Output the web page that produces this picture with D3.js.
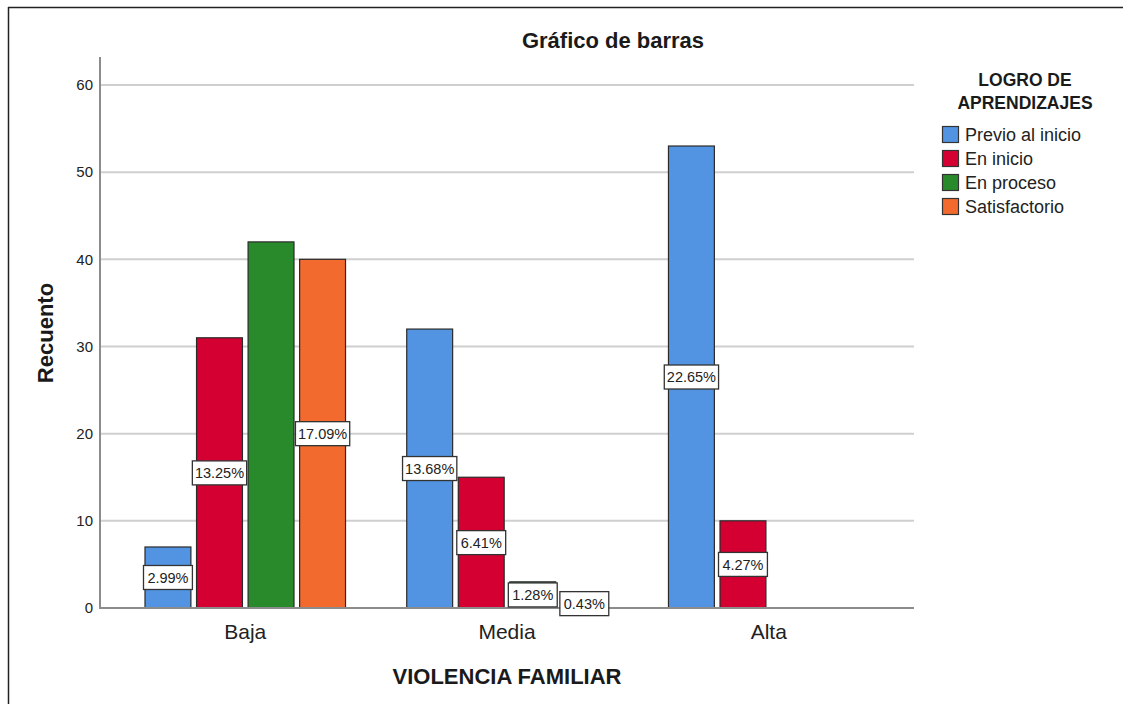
<!DOCTYPE html>
<html><head><meta charset="utf-8">
<script src="https://cdn.jsdelivr.net/npm/d3@7"></script>
<style>body{margin:0;background:#fff;} svg{display:block;font-family:"Liberation Sans",Arial,sans-serif;}</style>
</head><body><svg id="c" width="1128" height="704"></svg>
<script>
const categories = ["Baja", "Media", "Alta"];
const seriesNames = ["Previo al inicio", "En inicio", "En proceso", "Satisfactorio"];
const previoAlInicio = [7, 32, 53];
const enInicio = [31, 15, 10];
const enProceso = [42, 3, 0];
const satisfactorio = [40, 1, 0];
const pctLabels = [
  ["2.99%", "13.25%", null, "17.09%"],
  ["13.68%", "6.41%", "1.28%", "0.43%"],
  ["22.65%", "4.27%", null, null]
];
const yTicks = [0, 10, 20, 30, 40, 50, 60];
const colors = ["#5294e2", "#d50032", "#288a2a", "#f26a2d"];

const seriesValues = [previoAlInicio, enInicio, enProceso, satisfactorio];
const svg = d3.select("#c");

// outer frame
svg.append("line").attr("x1", 8).attr("x2", 1123).attr("y1", 7.5).attr("y2", 7.5).attr("stroke", "#222").attr("stroke-width", 1.5);
svg.append("line").attr("x1", 8.5).attr("x2", 8.5).attr("y1", 7).attr("y2", 704).attr("stroke", "#222").attr("stroke-width", 1.5);

const L = 100, R = 914, T = 57, B = 608;
const y = d3.scaleLinear().domain([0, 60]).range([B, 85]);
const x0 = d3.scaleBand().domain(categories).range([L, R]).paddingInner(0.23).paddingOuter(0.17);
const x1 = d3.scaleBand().domain(seriesNames).range([0, x0.bandwidth()]).paddingInner(0.09);

// gridlines
svg.append("g").selectAll("line").data(yTicks.filter(d => d > 0)).join("line")
  .attr("x1", L).attr("x2", R).attr("y1", d => y(d)).attr("y2", d => y(d))
  .attr("stroke", "#cfcfcf").attr("stroke-width", 2);

// y axis
const yAxis = d3.axisLeft(y).tickValues(yTicks).tickSize(0).tickPadding(7);
const gy = svg.append("g").attr("transform", `translate(${L},0)`).call(yAxis);
gy.select(".domain").remove();
gy.selectAll("text").attr("font-size", 15).attr("fill", "#222").attr("font-family", "Liberation Sans, Arial, sans-serif");
svg.append("line").attr("x1", L).attr("x2", L).attr("y1", T).attr("y2", B + 1).attr("stroke", "#8c8c8c").attr("stroke-width", 2);

// x axis
const xAxis = d3.axisBottom(x0).tickSize(0).tickPadding(16);
const gx = svg.append("g").attr("transform", `translate(0,${B})`).call(xAxis);
gx.select(".domain").remove();
gx.selectAll("text").attr("font-size", 21).attr("fill", "#222").attr("font-family", "Liberation Sans, Arial, sans-serif");

// bars
const rows = [];
categories.forEach((c, i) => seriesNames.forEach((s, j) => {
  const v = seriesValues[j][i];
  if (v > 0) rows.push({c, s, j, v, lab: pctLabels[i][j]});
}));
svg.append("g").selectAll("rect").data(rows).join("rect")
  .attr("x", d => x0(d.c) + x1(d.s) + 0.5)
  .attr("y", d => y(d.v))
  .attr("width", x1.bandwidth() - 1)
  .attr("height", d => B - y(d.v))
  .attr("fill", d => colors[d.j])
  .attr("stroke", "#2a2a2a").attr("stroke-width", 1.2);

// baseline
svg.append("line").attr("x1", L).attr("x2", R).attr("y1", B).attr("y2", B).attr("stroke", "#8c8c8c").attr("stroke-width", 2);

// labels
const lg = svg.append("g").selectAll("g").data(rows.filter(d => d.lab)).join("g")
  .attr("transform", d => `translate(${x0(d.c) + x1(d.s) + x1.bandwidth() / 2},${(y(d.v) + B) / 2})`);
lg.append("text").text(d => d.lab).attr("text-anchor", "middle").attr("dy", "0.36em")
  .attr("font-size", 14.5).attr("fill", "#222");
lg.each(function() {
  const g = d3.select(this);
  const bb = g.select("text").node().getBBox();
  const w = Math.max(bb.width + 5, x1.bandwidth() + 2);
  g.insert("rect", "text").attr("x", -w / 2).attr("y", -12).attr("width", w).attr("height", 24)
    .attr("fill", "#fff").attr("stroke", "#333").attr("stroke-width", 1.3);
});

// titles
svg.append("text").attr("x", 613).attr("y", 48).attr("text-anchor", "middle")
  .attr("font-size", 22).attr("font-weight", "bold").attr("fill", "#1a1a1a").text("Gráfico de barras");
svg.append("text").attr("x", 507).attr("y", 684).attr("text-anchor", "middle")
  .attr("font-size", 22).attr("font-weight", "bold").attr("fill", "#1a1a1a").text("VIOLENCIA FAMILIAR");
svg.append("text").attr("transform", "translate(53,333) rotate(-90)").attr("text-anchor", "middle")
  .attr("font-size", 22).attr("font-weight", "bold").attr("fill", "#1a1a1a").text("Recuento");

// legend
svg.append("text").attr("x", 1025).attr("y", 86).attr("text-anchor", "middle")
  .attr("font-size", 17.5).attr("font-weight", "bold").attr("fill", "#1a1a1a").text("LOGRO DE");
svg.append("text").attr("x", 1025).attr("y", 109).attr("text-anchor", "middle")
  .attr("font-size", 17.5).attr("font-weight", "bold").attr("fill", "#1a1a1a").text("APRENDIZAJES");
const leg = svg.append("g").selectAll("g").data(seriesNames).join("g")
  .attr("transform", (d, i) => `translate(942,${126 + i * 24})`);
leg.append("rect").attr("x", 0.5).attr("y", 0.5).attr("width", 16).attr("height", 16)
  .attr("fill", (d, i) => colors[i]).attr("stroke", "#333").attr("stroke-width", 1.2);
leg.append("text").attr("x", 23).attr("y", 15).attr("font-size", 18).attr("fill", "#222").text(d => d);
</script></body></html>
